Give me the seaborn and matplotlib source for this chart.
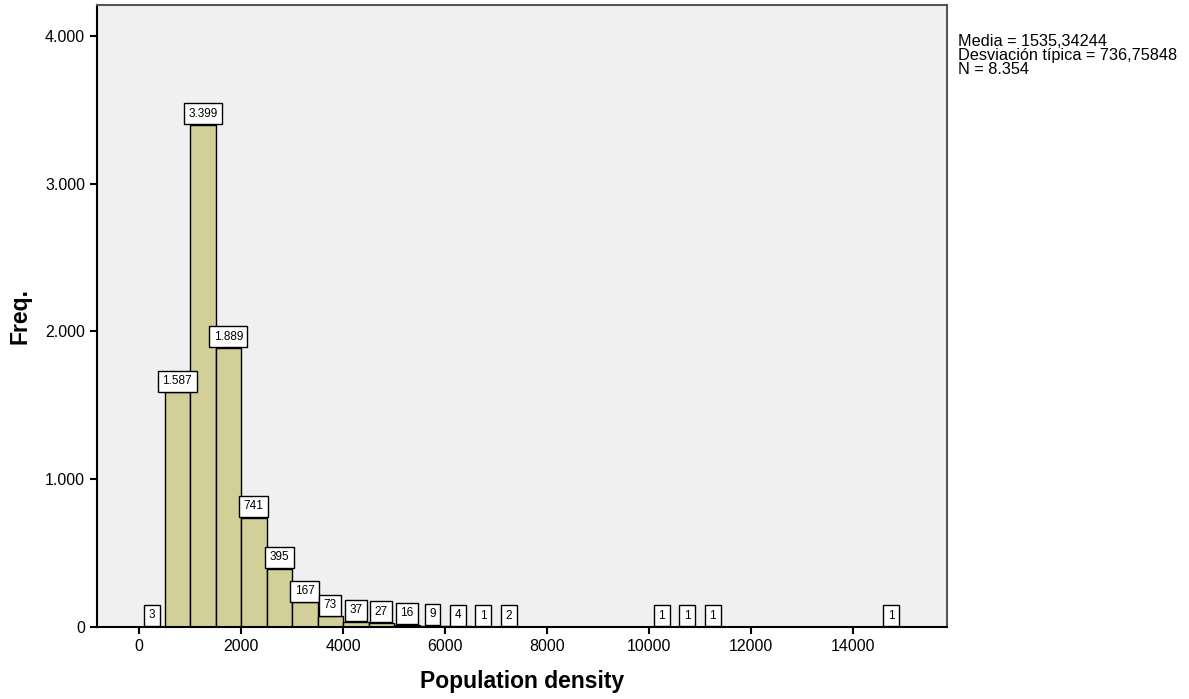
import matplotlib
matplotlib.use("Agg")
import matplotlib.pyplot as plt
import matplotlib.ticker as mticker
import seaborn as sns
import numpy as np

# histogram bins (width 500) that hold at least one case
bin_starts = [0, 500, 1000, 1500, 2000, 2500, 3000, 3500, 4000, 4500,
              5000, 5500, 6000, 6500, 7000, 10000, 10500, 11000, 14500]
counts = [3, 1587, 3399, 1889, 741, 395, 167, 73, 37, 27,
          16, 9, 4, 1, 2, 1, 1, 1, 1]
bin_width = 500
stats_text = "Media = 1535,34244\nDesviación típica = 736,75848\nN = 8.354"

sns.set_style("ticks")
plt.rcParams["font.family"] = ["Liberation Sans", "DejaVu Sans"]
plt.rcParams["text.color"] = "black"
plt.rcParams["axes.labelcolor"] = "black"
plt.rcParams["xtick.color"] = "black"
plt.rcParams["ytick.color"] = "black"

fig = plt.figure(figsize=(11.89, 6.99), dpi=100)
ax = fig.add_axes([0.0816, 0.103, 0.7149, 0.890])
ax.set_facecolor("#f0f0f0")

centers = [s + bin_width / 2 for s in bin_starts]
sns.histplot(x=centers, weights=counts, binwidth=bin_width, binrange=(0, 15000),
             color="#d3cf99", edgecolor="black", linewidth=1, alpha=1, ax=ax)

# value boxes sitting on top of every non-empty bar
fs, pad = 8.5, 0.38
for c, n in zip(centers, counts):
    lab = f"{n:,}".replace(",", ".")
    ax.annotate(lab, (c, n), xytext=(0, fs * pad + 0.5), textcoords="offset points",
                ha="center", va="bottom", fontsize=fs,
                bbox=dict(boxstyle=f"square,pad={pad}", fc="white", ec="black", lw=1))

ax.set_xlim(-824, 15843)
ax.set_ylim(0, 4210)
ax.set_xticks(np.arange(0, 15000, 2000))
ax.set_yticks(np.arange(0, 4001, 1000))
ax.yaxis.set_major_formatter(mticker.FuncFormatter(lambda v, p: f"{int(v):,}".replace(",", ".")))
ax.tick_params(axis="both", labelsize=11.5, length=5, width=1.5, direction="out")

ax.set_xlabel("Population density", fontsize=16.5, fontweight="bold", labelpad=12)
ax.set_ylabel("Freq.", fontsize=16.5, fontweight="bold", labelpad=10)

for side in ["left", "bottom"]:
    ax.spines[side].set_color("black")
    ax.spines[side].set_linewidth(1.5)
for side in ["top", "right"]:
    ax.spines[side].set_visible(True)
    ax.spines[side].set_color("#555555")
    ax.spines[side].set_linewidth(1.5)

fig.text(0.8055, 0.952, stats_text, fontsize=11.7, va="top", ha="left", linespacing=0.92)

fig.savefig("out.png", dpi=100)
